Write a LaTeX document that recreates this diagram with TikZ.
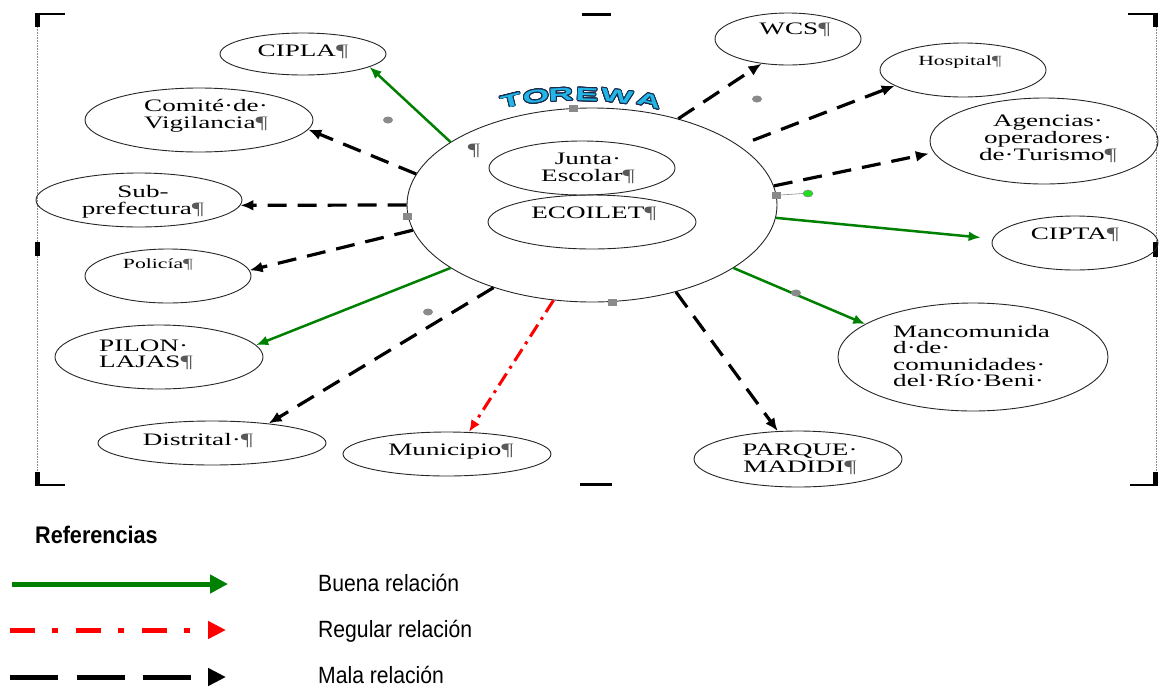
\documentclass[tikz,border=0pt]{standalone}
\usepackage{fontspec}
\setmainfont{Liberation Serif}
\newfontfamily\wf[FakeStretch=1.55]{Liberation Serif}
\newfontfamily\lgf[FakeStretch=0.9]{Liberation Sans}
\newfontfamily\twf[FakeStretch=1.9]{Liberation Sans}
\usepackage{contour}
\contourlength{0.9pt}
\contournumber{20}
\usetikzlibrary{shapes.geometric,arrows.meta}
\definecolor{gr}{HTML}{008000}
\definecolor{rd}{HTML}{FF0000}
\definecolor{tcyan}{HTML}{22B5E8}
\definecolor{tline}{HTML}{1A2A4A}
\definecolor{hg}{HTML}{8A8A8A}
\definecolor{gdot}{HTML}{22DD22}
\newcommand\pil{{\color{black!65}¶}}
\begin{document}
\begin{tikzpicture}[x=1pt,y=-1pt,
  ell/.style={draw=black!85, ellipse, line width=0.9pt, inner sep=0pt},
  txt/.style={font=\wf\fontsize{17.5}{17}\selectfont, align=center, inner sep=0pt},
  txtl/.style={font=\wf\fontsize{17.5}{16.5}\selectfont, align=left, inner sep=0pt},
  txts/.style={font=\wf\fontsize{14}{15}\selectfont, inner sep=0pt},
  good/.style={gr, line width=2.5pt, -{Latex[length=12pt,width=10pt]}},
  bad/.style={black, line width=3.2pt, dash pattern=on 19pt off 11pt, -{Latex[length=13pt,width=11pt]}},
  regular/.style={rd, line width=3pt, dash pattern=on 14pt off 6pt on 3pt off 6pt, -{Latex[length=12pt,width=10pt]}},
  tw/.style={font=\twf\bfseries\fontsize{18}{18}\selectfont, inner sep=0pt, text=tcyan},
  lgtxt/.style={font=\lgf\fontsize{23.5}{24}\selectfont, inner sep=0pt, anchor=base west},
  frame/.style={hg, densely dotted, line width=0.6pt},
  handle/.style={fill=hg},
]
\useasboundingbox (0,0) rectangle (1161,686);

% ---------- frame marks ----------
\draw[frame] (37,27) -- (37,472);
\draw[frame] (1156,27) -- (1156,472);
\fill (35,13) rectangle (40,27);
\draw[line width=1.5pt] (35,14) -- (65,14);
\fill (35,242) rectangle (40,256);
\fill (35,472) rectangle (40,486);
\draw[line width=1.5pt] (35,485) -- (65,485);
\fill (582,13) rectangle (611,15.5);
\fill (580,483) rectangle (612,486);
\fill (1153,13) rectangle (1158,27);
\draw[line width=1.5pt] (1128,14) -- (1158,14);
\fill (1153,242) rectangle (1158,257);
\fill (1153,472) rectangle (1158,486);
\draw[line width=1.5pt] (1130,485) -- (1158,485);

% ---------- main circle and inner ellipses ----------
\node[ell, minimum width=370pt, minimum height=194pt] (torewa) at (592,205) {};
\node[ell, minimum width=186pt, minimum height=54pt] (junta) at (582,168) {};
\node[ell, minimum width=208pt, minimum height=54pt] (ecoilet) at (592,222) {};
\node[txt] (juntat) at (588,168) {Junta·\\Escolar\pil};
\node[txt] (ecoilett) at (594,214) {ECOILET\pil};
\node[txt] (pmark) at (474,151) {\pil};

% ---------- TOREWA word art ----------
\node[tw, rotate=14] (tw1) at (511,101) {\contour{tline}{T}};
\node[tw, rotate=8]  (tw2) at (536,97) {\contour{tline}{O}};
\node[tw, rotate=3]  (tw3) at (561,95) {\contour{tline}{R}};
\node[tw, rotate=-2] (tw4) at (587,95) {\contour{tline}{E}};
\node[tw, rotate=-7] (tw5) at (617,97) {\contour{tline}{W}};
\node[tw, rotate=-14] (tw6) at (649,101) {\contour{tline}{A}};

% ---------- outer ellipses ----------
\node[ell, minimum width=166pt, minimum height=42pt] (cipla) at (303,54) {};
\node[txt] (ciplat) at (303,52) {CIPLA\pil};
\node[ell, minimum width=228pt, minimum height=64pt] (comite) at (199,120) {};
\node[txt] (comitet) at (206,116) {Comité·de·\\Vigilancia\pil};
\node[ell, minimum width=206pt, minimum height=54pt] (subpref) at (139,200) {};
\node[txt] (subpreft) at (143,202) {Sub-\\prefectura\pil};
\node[ell, minimum width=166pt, minimum height=54pt] (policia) at (168,276) {};
\node[txts] (policiat) at (158,265) {Policía\pil};
\node[ell, minimum width=208pt, minimum height=64pt] (pilon) at (159,357) {};
\node[txtl, anchor=west] (pilont) at (99,355) {PILON·\\LAJAS\pil};
\node[ell, minimum width=228pt, minimum height=44pt] (distrital) at (212,443) {};
\node[txt] (distritalt) at (198,441) {Distrital·\pil};
\node[ell, minimum width=208pt, minimum height=44pt] (municipio) at (447,454) {};
\node[txt] (municipiot) at (451,452) {Municipio\pil};
\node[ell, minimum width=208pt, minimum height=56pt] (parque) at (798,459) {};
\node[txt] (parquet) at (800,459) {PARQUE·\\MADIDI\pil};
\node[ell, minimum width=270pt, minimum height=108pt] (manco) at (973,357) {};
\node[txtl, anchor=west] (mancot) at (893,356) {Mancomunida\\d·de·\\comunidades·\\del·Río·Beni·};
\node[ell, minimum width=166pt, minimum height=54pt] (cipta) at (1075,243) {};
\node[txt] (ciptat) at (1075,235) {CIPTA\pil};
\node[ell, minimum width=228pt, minimum height=86pt] (agencias) at (1044,141) {};
\node[txt] (agenciast) at (1048,139) {Agencias·\\operadores·\\de·Turismo\pil};
\node[ell, minimum width=166pt, minimum height=54pt] (hospital) at (963,70) {};
\node[txts] (hospitalt) at (960,62) {Hospital\pil};
\node[ell, minimum width=146pt, minimum height=52pt] (wcs) at (788,39) {};
\node[txt] (wcst) at (795,30) {WCS\pil};

% ---------- connectors ----------
\draw[good] (torewa.156) -- (cipla.-11);
\draw[good, shorten >=12pt] (torewa.-4) -- (cipta.177);
\draw[good] (torewa.204) -- (pilon.7);
\draw[good] (torewa.-24) -- (manco.163);
\draw[regular] (torewa.248) -- (municipio.45);
\draw[bad] (torewa.170) -- (comite.-5);
\draw[bad] (torewa.180) -- (subpref.-3);
\draw[bad] (torewa.188) -- (policia.4);
\draw[bad] (torewa.220) -- (distrital.19);
\draw[bad] (torewa.-46) -- (parque.126);
\draw[bad] (torewa.45) -- (wcs.223);
\draw[bad, shorten <=15pt] (torewa.22) -- (hospital.193);
\draw[bad, shorten >=5pt] (torewa.6) -- (agencias.186);

% ---------- selection handles ----------
\fill[handle] (568.5,104.5) rectangle (577.5,111.5);
\fill[handle] (402.5,212.5) rectangle (411.5,219.5);
\fill[handle] (771.5,191.5) rectangle (780.5,198.5);
\fill[handle] (607.5,298.5) rectangle (616.5,305.5);
\fill[hg] (388,120) ellipse [x radius=5, y radius=3.5];
\fill[hg] (757,99) ellipse [x radius=5, y radius=3.5];
\fill[hg] (796,293) ellipse [x radius=5, y radius=3.5];
\fill[hg] (428,312) ellipse [x radius=5, y radius=3.5];
\draw[hg, line width=0.6pt] (780.5,195) -- (803,193.5);
\filldraw[fill=gdot, draw=hg, line width=0.5pt] (808,193.5) ellipse [x radius=5, y radius=3.5];

% ---------- legend ----------
\node[font=\lgf\bfseries\fontsize{24}{24}\selectfont, inner sep=0pt, anchor=base west] (ref) at (35,543) {Referencias};
\coordinate (g1) at (12,584);
\coordinate (g2) at (228,584);
\coordinate (r1) at (10,630);
\coordinate (r2) at (226,630);
\coordinate (b1) at (10,677);
\coordinate (b2) at (226,677);
\draw[gr, line width=5pt, -{Triangle[length=18pt,width=18pt]}] (g1) -- (g2);
\draw[rd, line width=5pt, dash pattern=on 25pt off 17pt on 6pt off 18pt, -{Triangle[length=18pt,width=17pt]}] (r1) -- (r2);
\draw[black, line width=5pt, dash pattern=on 48pt off 18.5pt, -{Triangle[length=18pt,width=17pt]}] (b1) -- (b2);
\node[lgtxt] (lg1) at (318,591) {Buena relación};
\node[lgtxt] (lg2) at (318,637) {Regular relación};
\node[lgtxt] (lg3) at (318,683) {Mala relación};
\end{tikzpicture}
\end{document}
